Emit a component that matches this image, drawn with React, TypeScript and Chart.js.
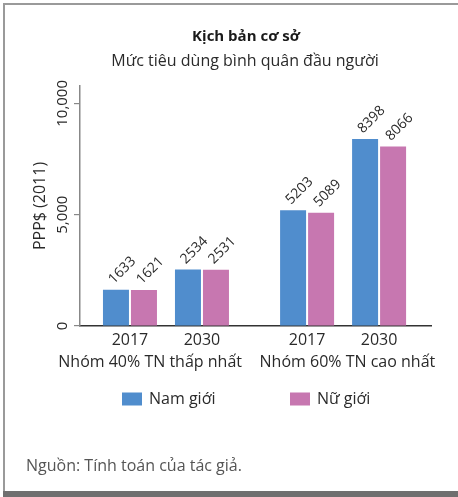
import React, { useEffect, useRef } from "react";
import { Chart, registerables } from "chart.js";

Chart.register(...registerables);

const categories = ["2017", "2030", "2017", "2030"];
const groups = ["Nhóm 40% TN thấp nhất", "Nhóm 60% TN cao nhất"];
const groupOfCategory = [0, 0, 1, 1];
const namGioi = [1633, 2534, 5203, 8398];
const nuGioi = [1621, 2531, 5089, 8066];
const seriesNames = ["Nam giới", "Nữ giới"];
const seriesColors = ["#508DCD", "#C777B0"];
const yTicks = [0, 5000, 10000];

const FONT = "'Open Sans', 'Noto Sans', sans-serif";
const GROUP_GAP = 0.46;
const xPos = categories.map((_, i) => i + groupOfCategory[i] * GROUP_GAP);
// group label centres (slightly nudged apart so the long labels don't collide)
const groupLabelPos = [0.28, 3.02];
const X_MIN = -0.694;
const X_MAX = 4.181;

const valueLabels = {
  id: "valueLabels",
  afterDatasetsDraw(chart: any) {
    const ctx = chart.ctx;
    ctx.save();
    ctx.font = `14px ${FONT}`;
    ctx.fillStyle = "#2a2a2a";
    ctx.textAlign = "left";
    ctx.textBaseline = "middle";
    chart.data.datasets.forEach((ds: any, di: number) => {
      const meta = chart.getDatasetMeta(di);
      meta.data.forEach((el: any, i: number) => {
        const v = ds.data[i].y;
        ctx.save();
        ctx.translate(el.x - 5, el.y - 8);
        ctx.rotate(-Math.PI / 4);
        ctx.fillText(String(v), 0, 0);
        ctx.restore();
      });
    });
    ctx.restore();
  },
};

const customLegend = {
  id: "customLegend",
  afterDraw(chart: any) {
    const ctx = chart.ctx;
    const startX = [122, 290];
    const boxTop = 392.5;
    ctx.save();
    ctx.font = `16px ${FONT}`;
    ctx.textAlign = "left";
    ctx.textBaseline = "middle";
    chart.data.datasets.forEach((ds: any, i: number) => {
      ctx.fillStyle = ds.backgroundColor;
      ctx.fillRect(startX[i], boxTop, 20, 13);
      ctx.fillStyle = "#2a2a2a";
      ctx.fillText(ds.label, startX[i] + 27, boxTop + 7);
    });
    ctx.restore();
  },
};

export default function App() {
  const ref = useRef<HTMLCanvasElement>(null);
  useEffect(() => {
    if (!ref.current) return;
    const chart = new Chart(ref.current, {
      type: "bar",
      data: {
        datasets: [
          {
            label: seriesNames[0],
            data: namGioi.map((v, i) => ({ x: xPos[i], y: v })),
            backgroundColor: seriesColors[0],
            categoryPercentage: 56 / 72,
            barPercentage: 26 / 28,
          },
          {
            label: seriesNames[1],
            data: nuGioi.map((v, i) => ({ x: xPos[i], y: v })),
            backgroundColor: seriesColors[1],
            categoryPercentage: 56 / 72,
            barPercentage: 26 / 28,
          },
        ],
      } as any,
      options: {
        animation: false,
        responsive: false,
        maintainAspectRatio: false,
        layout: { padding: { left: 30, right: 27, top: 86, bottom: 123 } },
        plugins: {
          legend: { display: false },
          title: { display: false },
          tooltip: { enabled: false },
        },
        scales: {
          x: {
            type: "linear",
            position: "bottom",
            min: X_MIN,
            max: X_MAX,
            offset: false,
            weight: 0,
            afterBuildTicks: (s: any) => {
              s.ticks = xPos.map((v) => ({ value: v }));
            },
            afterFit: (s: any) => {
              s.height = 24;
            },
            ticks: {
              autoSkip: false,
              maxRotation: 0,
              minRotation: 0,
              padding: 4.5,
              color: "#2a2a2a",
              font: { family: FONT, size: 16 },
              callback: (_v: any, i: number) => categories[i],
            },
            grid: { display: false, drawTicks: false },
            border: { display: true, color: "#333", width: 1.5 },
          },
          x2: {
            type: "linear",
            position: "bottom",
            min: X_MIN,
            max: X_MAX,
            offset: false,
            weight: 1,
            afterBuildTicks: (s: any) => {
              s.ticks = groupLabelPos.map((v) => ({ value: v }));
            },
            afterFit: (s: any) => {
              s.height = 24;
            },
            ticks: {
              autoSkip: false,
              maxRotation: 0,
              minRotation: 0,
              padding: 3,
              color: "#2a2a2a",
              font: { family: FONT, size: 16 },
              callback: (_v: any, i: number) => groups[i],
            },
            grid: { display: false, drawTicks: false },
            border: { display: false },
          },
          y: {
            type: "linear",
            min: 0,
            max: 10780,
            afterBuildTicks: (s: any) => {
              s.ticks = yTicks.map((v) => ({ value: v }));
            },
            afterFit: (s: any) => {
              s.width = 50;
            },
            ticks: {
              minRotation: 90,
              maxRotation: 90,
              crossAlign: "center",
              padding: -12,
              color: "#2a2a2a",
              font: { family: FONT, size: 15 },
              callback: (v: any) => Number(v).toLocaleString("en-US"),
            },
            grid: {
              display: true,
              drawOnChartArea: false,
              drawTicks: true,
              tickLength: 6,
              color: "#888",
              lineWidth: 1.2,
            },
            border: { display: true, color: "#888", width: 1.5 },
            title: {
              display: true,
              text: "PPP$ (2011)",
              color: "#2a2a2a",
              font: { family: FONT, size: 16 },
              padding: { top: 1, bottom: 0 },
            },
          },
        },
      } as any,
      plugins: [valueLabels, customLegend],
    });
    return () => chart.destroy();
  }, []);

  return (
    <div
      style={{
        position: "absolute",
        left: 0,
        top: 0,
        width: 458,
        height: 497,
        background: "#fff",
        overflow: "hidden",
        fontFamily: FONT,
      }}
    >
      <div style={{ position: "absolute", left: 3, top: 3, width: 455, height: 2, background: "#9a9a9a" }} />
      <div style={{ position: "absolute", left: 3, top: 3, width: 2, height: 490, background: "#9a9a9a" }} />
      <div style={{ position: "absolute", left: 3, top: 491, width: 455, height: 6, background: "#6f6f6f" }} />
      <canvas ref={ref} width={458} height={497} style={{ position: "absolute", left: 0, top: 0 }} />
      <div
        style={{
          position: "absolute",
          left: 0,
          width: 492,
          top: 25,
          lineHeight: "20px",
          textAlign: "center",
          fontWeight: 700,
          fontSize: 15,
          color: "#1a1a1a",
        }}
      >
        Kịch bản cơ sở
      </div>
      <div
        style={{
          position: "absolute",
          left: 0,
          width: 490,
          top: 50,
          lineHeight: "20px",
          textAlign: "center",
          fontSize: 16,
          color: "#2a2a2a",
        }}
      >
        Mức tiêu dùng bình quân đầu người
      </div>
      <div
        style={{
          position: "absolute",
          left: 26,
          top: 455,
          lineHeight: "20px",
          fontSize: 16,
          color: "#555",
          whiteSpace: "nowrap",
        }}
      >
        Nguồn: Tính toán của tác giả.
      </div>
    </div>
  );
}
